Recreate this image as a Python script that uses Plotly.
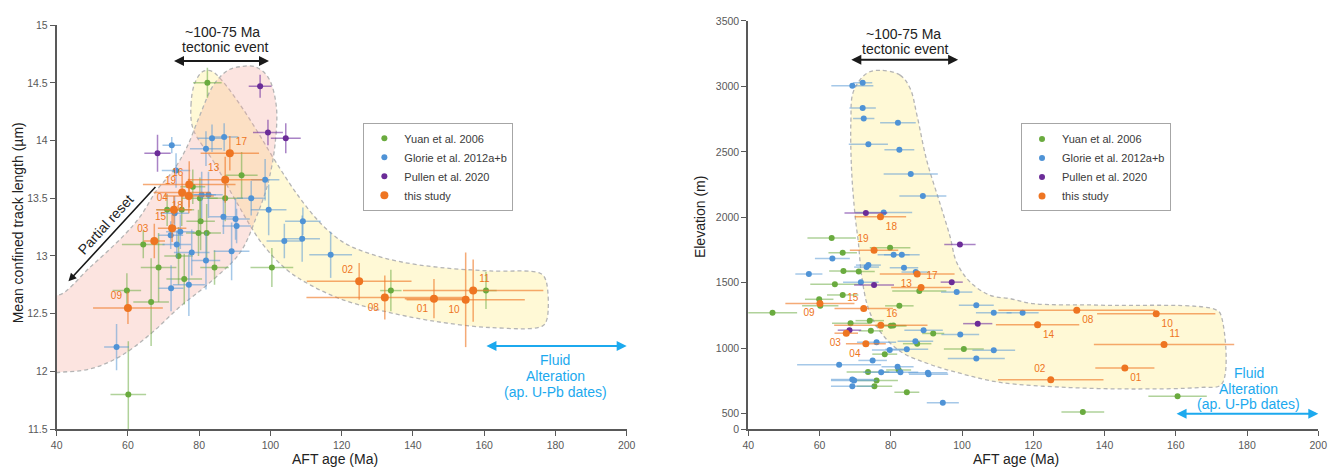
import plotly.graph_objects as go

# ---------------- Left panel: AFT age vs mean confined track length ----------------
yuan_L_age = [82.3, 91.9, 78.2, 80.2, 87.3, 71.0, 75.1, 80.4, 79.8, 82.1, 64.3, 74.2, 68.6, 84.3, 100.4, 75.8, 59.7, 66.5, 60.1, 133.8, 160.5]
yuan_L_len = [14.50, 13.70, 13.60, 13.50, 13.50, 13.40, 13.40, 13.30, 13.20, 13.20, 13.10, 13.00, 12.90, 12.90, 12.90, 12.80, 12.70, 12.60, 11.80, 12.70, 12.70]
yuan_L_age_err = [4.0, 4.5, 3.5, 5.0, 5.0, 3.0, 3.5, 4.0, 3.5, 4.0, 6.0, 4.0, 5.0, 4.0, 6.0, 5.0, 4.0, 5.0, 5.0, 3.0, 3.0]
yuan_L_len_err = [0.13, 0.20, 0.15, 0.18, 0.20, 0.14, 0.14, 0.25, 0.20, 0.25, 0.12, 0.25, 0.30, 0.15, 0.17, 0.22, 0.15, 0.38, 0.46, 0.18, 0.16]

glorie_L_age = [72.3, 83.6, 87.0, 81.9, 73.5, 98.5, 80.7, 82.6, 94.6, 73.1, 99.5, 86.8, 90.2, 109.1, 90.5, 74.7, 72.0, 103.9, 108.9, 73.7, 77.9, 81.9, 89.1, 116.9, 77.1, 72.1, 56.8]
glorie_L_len = [13.96, 14.02, 14.03, 13.93, 13.74, 13.66, 13.53, 13.53, 13.50, 13.37, 13.40, 13.34, 13.32, 13.30, 13.26, 13.21, 13.18, 13.13, 13.15, 13.10, 13.03, 12.96, 13.04, 13.01, 12.75, 12.72, 12.21]
glorie_L_age_err = [2.6, 4.0, 4.0, 4.5, 4.0, 4.0, 4.0, 4.0, 4.0, 4.0, 5.0, 4.0, 4.0, 5.0, 4.0, 4.0, 3.5, 5.0, 5.0, 4.0, 5.0, 4.0, 5.0, 6.0, 4.5, 3.5, 3.5]
glorie_L_len_err = [0.07, 0.12, 0.12, 0.15, 0.15, 0.18, 0.20, 0.20, 0.15, 0.15, 0.22, 0.15, 0.18, 0.12, 0.15, 0.15, 0.12, 0.15, 0.20, 0.12, 0.20, 0.25, 0.25, 0.20, 0.27, 0.20, 0.20]

pullen_L_age = [97.1, 99.3, 104.3, 68.3]
pullen_L_len = [14.47, 14.07, 14.02, 13.89]
pullen_L_age_err = [3.2, 4.2, 4.2, 3.7]
pullen_L_len_err = [0.10, 0.11, 0.13, 0.16]

study_L_label = ["01", "02", "03", "04", "08", "09", "10", "11", "13", "15", "16", "17", "18", "19"]
study_L_age = [145.9, 124.9, 67.4, 72.9, 132.1, 60.0, 154.8, 156.9, 87.3, 72.4, 77.2, 88.6, 77.1, 75.2]
study_L_len = [12.63, 12.78, 13.13, 13.40, 12.64, 12.55, 12.62, 12.70, 13.66, 13.24, 13.62, 13.89, 13.52, 13.55]
study_L_age_err = [8.2, 14.7, 3.0, 5.0, 22.0, 9.8, 16.6, 19.7, 10.5, 4.0, 13.0, 8.2, 7.0, 8.0]
study_L_len_err = [0.17, 0.16, 0.15, 0.12, 0.19, 0.14, 0.41, 0.27, 0.20, 0.12, 0.20, 0.15, 0.15, 0.15]
study_L_textpos = ["bottom left", "top left", "top left", "top left", "bottom left", "top left", "bottom left",
                   "top right", "top left", "top left", "top left", "top right", "bottom left", "top left"]

# ---------------- Right panel: AFT age vs elevation ----------------
yuan_R_age = [63.4, 79.8, 66.5, 66.7, 71.0, 64.3, 88.0, 66.5, 59.9, 60.2, 82.4, 46.8, 74.1, 68.7, 80.0, 80.7, 74.4, 91.9, 87.4, 100.5, 78.3, 82.2, 73.6, 76.0, 75.4, 84.5, 160.5, 133.9]
yuan_R_elev = [1843, 1768, 1730, 1590, 1587, 1489, 1437, 1407, 1374, 1324, 1324, 1271, 1211, 1191, 1171, 1173, 1133, 1113, 1035, 995, 955, 834, 819, 754, 709, 664, 633, 513]
yuan_R_age_err = [6.8, 5.7, 4.0, 4.0, 4.5, 6.9, 7.6, 4.4, 4.0, 5.1, 4.0, 6.9, 4.0, 5.2, 4.5, 3.5, 3.4, 3.1, 4.0, 5.6, 3.5, 3.5, 6.0, 6.0, 5.0, 3.5, 8.2, 6.0]

glorie_R_age = [72.1, 69.2, 72.1, 72.4, 82.0, 73.7, 82.4, 85.6, 89.0, 78.0, 63.6, 80.8, 83.1, 73.7, 73.2, 83.7, 87.0, 57.0, 71.6, 98.5, 104.0, 108.9, 117.0, 89.2, 99.5, 76.0, 86.9, 79.7, 84.5, 108.9, 74.9, 104.0, 65.5, 81.9, 77.3, 82.7, 90.4, 90.6, 69.2, 69.7, 69.2, 94.6]
glorie_R_elev = [3028, 3005, 2835, 2755, 2722, 2559, 2516, 2330, 2162, 2037, 1685, 1715, 1715, 1635, 1620, 1615, 1582, 1567, 1505, 1429, 1329, 1271, 1271, 1138, 1105, 1045, 1053, 987, 993, 985, 907, 922, 874, 859, 817, 817, 812, 802, 761, 754, 709, 584]
glorie_R_age_err = [2.7, 5.9, 3.7, 3.0, 5.0, 5.5, 4.2, 7.6, 6.6, 8.0, 4.9, 4.5, 5.0, 3.5, 3.5, 4.0, 4.0, 3.8, 5.0, 4.4, 4.9, 5.0, 4.5, 5.4, 5.3, 5.5, 5.0, 5.0, 6.0, 6.0, 4.0, 8.0, 11.8, 4.5, 5.0, 5.0, 5.5, 5.5, 6.0, 6.5, 6.0, 4.5]

pullen_R_age = [73.0, 99.4, 75.3, 97.1, 104.4, 68.4]
pullen_R_elev = [2034, 1793, 1484, 1505, 1188, 1138]
pullen_R_age_err = [6.0, 4.4, 5.6, 3.1, 4.1, 3.3]

study_R_label = ["01", "02", "03", "04", "08", "09", "10", "11", "13", "14", "15", "16", "17", "18", "19"]
study_R_age = [145.7, 124.9, 67.5, 73.0, 132.2, 60.1, 154.5, 156.7, 87.4, 121.2, 72.4, 77.2, 88.5, 77.1, 75.3]
study_R_elev = [849, 759, 1115, 1035, 1291, 1341, 1264, 1028, 1567, 1179, 1304, 1175, 1465, 2004, 1748]
study_R_age_err = [8.3, 14.8, 3.3, 5.6, 22.0, 9.7, 16.6, 19.7, 10.5, 11.7, 8.2, 13.1, 8.4, 7.2, 6.8]
study_R_textpos = ["bottom right", "top left", "bottom left", "bottom left", "bottom right", "bottom left", "bottom right",
                   "top right", "bottom left", "bottom right", "top left", "top right", "top right", "bottom right", "top left"]

# Interpretive regions (outline vertices, data units)
pink_region_age = [36, 40.4, 49.3, 57.8, 66.2, 74.6, 83.0, 91.5, 96.2, 99.3, 101.3, 101.6, 99.3, 95.7, 91.5, 88.1, 84.0, 80.2, 76.5, 72.7, 68.1, 63.4, 58.6, 49.3, 40.4, 36]
pink_region_len = [11.97, 11.99, 12.02, 12.13, 12.32, 12.56, 12.77, 13.03, 13.35, 13.63, 13.97, 14.31, 14.55, 14.64, 14.64, 14.61, 14.48, 14.22, 13.94, 13.74, 13.57, 13.34, 13.17, 12.90, 12.66, 12.72]
yellowL_region_age = [78.3, 77.7, 78.8, 81.1, 83.6, 86.4, 91.5, 96.5, 101.8, 108.3, 114.5, 120.9, 127.9, 136.4, 147.6, 161.6, 175.7, 177.3, 177.6, 176.2, 161.6, 144.8, 130.7, 119.5, 111.1, 104.6, 97.6, 90.6, 84.4, 78.3]
yellowL_region_len = [14.10, 14.31, 14.50, 14.60, 14.60, 14.52, 14.31, 14.07, 13.80, 13.50, 13.27, 13.11, 13.02, 12.95, 12.90, 12.87, 12.85, 12.79, 12.45, 12.39, 12.38, 12.44, 12.53, 12.63, 12.75, 12.88, 13.11, 13.46, 13.80, 14.10]
yellowR_region_age = [77.0, 82.6, 85.4, 87.3, 90.1, 93.8, 96.6, 98.5, 102.3, 107.9, 113.5, 120.0, 138.7, 171.5, 172.9, 172.9, 166.8, 148.1, 129.4, 110.7, 100.4, 91.0, 82.6, 77.0, 73.7, 71.8, 70.9, 70.0, 69.0, 68.8, 69.5, 73.2, 77.0]
yellowR_region_elev = [3123, 3086, 2986, 2785, 2433, 2107, 1856, 1655, 1505, 1404, 1379, 1341, 1329, 1291, 1233, 727, 701, 689, 701, 739, 802, 877, 977, 1128, 1304, 1555, 1806, 2007, 2358, 2734, 2960, 3099, 3123]

# Axis ticks
x_ticks = [40, 60, 80, 100, 120, 140, 160, 180, 200]
yL_ticks = [11.5, 12, 12.5, 13, 13.5, 14, 14.5, 15]
yR_tickvals = [383, 500, 1000, 1500, 2000, 2500, 3000, 3500]
yR_ticktext = ["0", "500", "1000", "1500", "2000", "2500", "3000", "3500"]

# ---------------- Styles ----------------
GREEN, GREEN_E = "#6AAB3F", "rgba(112,173,71,0.55)"
BLUE, BLUE_E = "#4F93D6", "rgba(91,155,213,0.55)"
PURPLE, PURPLE_E = "#6B2C98", "rgba(112,48,160,0.6)"
ORANGE, ORANGE_E = "#EE7522", "rgba(240,125,45,0.65)"
AX = "#595959"
FONT = "Liberation Sans, Arial, sans-serif"
CYAN = "#1CA9EE"

fig = go.Figure()

def region(xs, ys, fill, xa, ya):
    fig.add_trace(go.Scatter(x=xs, y=ys, mode="lines", fill="toself", fillcolor=fill,
                             line=dict(color="#b5b5b5", width=1.3, dash="4px,3px", shape="spline", smoothing=1),
                             hoverinfo="skip", showlegend=False, xaxis=xa, yaxis=ya))

region(yellowL_region_age, yellowL_region_len, "rgba(255,238,130,0.33)", "x", "y")
region(pink_region_age, pink_region_len, "rgba(245,170,160,0.32)", "x", "y")
region(yellowR_region_age, yellowR_region_elev, "rgba(255,238,130,0.33)", "x2", "y2")

def series(xs, ys, xe, ye, color, ecol, name, xa, ya, leg, size=6, text=None, tpos=None):
    kw = {}
    if text is not None:
        kw = dict(text=text, textposition=tpos, textfont=dict(color=ORANGE, size=10, family=FONT))
    fig.add_trace(go.Scatter(
        x=xs, y=ys, mode="markers+text" if text is not None else "markers", name=name,
        marker=dict(color=color, size=size, line=dict(width=0)),
        error_x=dict(type="data", array=xe, visible=True, color=ecol, thickness=1.5, width=0),
        error_y=dict(type="data", array=ye, visible=ye is not None, color=ecol, thickness=1.5, width=0),
        xaxis=xa, yaxis=ya, legend=leg, cliponaxis=False, **kw))

series(yuan_L_age, yuan_L_len, yuan_L_age_err, yuan_L_len_err, GREEN, GREEN_E, "Yuan et al. 2006", "x", "y", "legend")
series(glorie_L_age, glorie_L_len, glorie_L_age_err, glorie_L_len_err, BLUE, BLUE_E, "Glorie et al. 2012a+b", "x", "y", "legend")
series(pullen_L_age, pullen_L_len, pullen_L_age_err, pullen_L_len_err, PURPLE, PURPLE_E, "Pullen et al. 2020", "x", "y", "legend")
series(study_L_age, study_L_len, study_L_age_err, study_L_len_err, ORANGE, ORANGE_E, "this study", "x", "y", "legend",
       size=8, text=study_L_label, tpos=study_L_textpos)

series(yuan_R_age, yuan_R_elev, yuan_R_age_err, None, GREEN, GREEN_E, "Yuan et al. 2006", "x2", "y2", "legend2")
series(glorie_R_age, glorie_R_elev, glorie_R_age_err, None, BLUE, BLUE_E, "Glorie et al. 2012a+b", "x2", "y2", "legend2")
series(pullen_R_age, pullen_R_elev, pullen_R_age_err, None, PURPLE, PURPLE_E, "Pullen et al. 2020", "x2", "y2", "legend2")
series(study_R_age, study_R_elev, study_R_age_err, None, ORANGE, ORANGE_E, "this study", "x2", "y2", "legend2",
       size=7, text=study_R_label, tpos=study_R_textpos)

axis_common = dict(showline=True, linewidth=2, linecolor=AX, ticks="outside", ticklen=5, tickwidth=1.3,
                   tickcolor=AX, showgrid=False, zeroline=False, tickfont=dict(size=10.5, color=AX, family=FONT))

legend_common = dict(bgcolor="white", bordercolor="#a6a6a6", borderwidth=1, font=dict(size=11, color="#3a3a3a", family=FONT),
                     xanchor="left", yanchor="top", tracegroupgap=0, itemwidth=30)

# margins are offset by the 8px page margin of the html body
fig.update_layout(
    width=1338, height=472, plot_bgcolor="white", paper_bgcolor="white",
    margin=dict(l=42, r=18, t=2, b=48),
    font=dict(family=FONT, color="#222"),
    xaxis=dict(domain=[0.005243, 0.451252], anchor="y", range=[40, 200], tickvals=x_ticks, **axis_common),
    yaxis=dict(domain=[0.00711, 0.97796], anchor="x", range=[11.5, 15], tickvals=yL_ticks, **axis_common),
    xaxis2=dict(domain=[0.546401, 0.992410], anchor="y2", range=[40, 200], tickvals=x_ticks, **axis_common),
    yaxis2=dict(domain=[0.00711, 0.98815], anchor="x2", range=[383, 3500], tickvals=yR_tickvals, ticktext=yR_ticktext, **axis_common),
    legend=dict(x=0.2452, y=0.7434, **legend_common),
    legend2=dict(x=0.7598, y=0.7417, **legend_common),
)

ann = []
def text(x, y, s, xref, yref, size=14, color="#222", angle=0):
    ann.append(dict(x=x, y=y, xref=xref, yref=yref, text=s, showarrow=False, textangle=angle,
                    font=dict(size=size, color=color, family=FONT), xanchor="center", yanchor="middle"))

def arrow(x0, y0, x1, y1, xref, yref, color, width=2, both=True):
    ann.append(dict(x=x1, y=y1, ax=x0, ay=y0, xref=xref, yref=yref, axref=xref, ayref=yref, text="",
                    showarrow=True, arrowhead=2, startarrowhead=2, arrowsize=1, startarrowsize=1,
                    arrowwidth=width, arrowcolor=color, arrowside="end+start" if both else "end",
                    standoff=0, startstandoff=0))

# axis titles
text(118.1, -0.066, "AFT age (Ma)", "x", "paper")
text(115.2, -0.066, "AFT age (Ma)", "x2", "paper")
text(-0.0248, 0.5024, "Mean confined track length (µm)", "paper", "paper", angle=-90)
text(0.5086, 0.5166, "Elevation (m)", "paper", "paper", angle=-90)

# tectonic event arrows
arrow(72.5, 14.69, 99.6, 14.69, "x", "y", "#1a1a1a")
text(86.4, 14.937, "~100-75 Ma", "x", "y")
text(87.2, 14.809, "tectonic event", "x", "y")
arrow(68.5, 3204, 98.9, 3204, "x2", "y2", "#1a1a1a")
text(83.5, 3400, "~100-75 Ma", "x2", "y2")
text(84.0, 3289, "tectonic event", "x2", "y2")

# partial reset
arrow(68.1, 13.61, 43.3, 12.78, "x", "y", "#1a1a1a", width=1.6, both=False)
text(53.8, 13.277, "Partial reset", "x", "y", size=14, angle=-47.8)

# fluid alteration
arrow(160.2, 12.22, 200, 12.22, "x", "y", CYAN)
text(179.9, 12.096, "Fluid", "x", "y", color=CYAN)
text(179.9, 11.962, "Alteration", "x", "y", color=CYAN)
text(179.9, 11.825, "(ap. U-Pb dates)", "x", "y", color=CYAN)
arrow(159.8, 500, 200, 500, "x2", "y2", CYAN)
text(180.5, 809, "Fluid", "x2", "y2", color=CYAN)
text(180.5, 691, "Alteration", "x2", "y2", color=CYAN)
text(180.5, 576, "(ap. U-Pb dates)", "x2", "y2", color=CYAN)

fig.update_layout(annotations=ann)
fig.write_html("out.html")
